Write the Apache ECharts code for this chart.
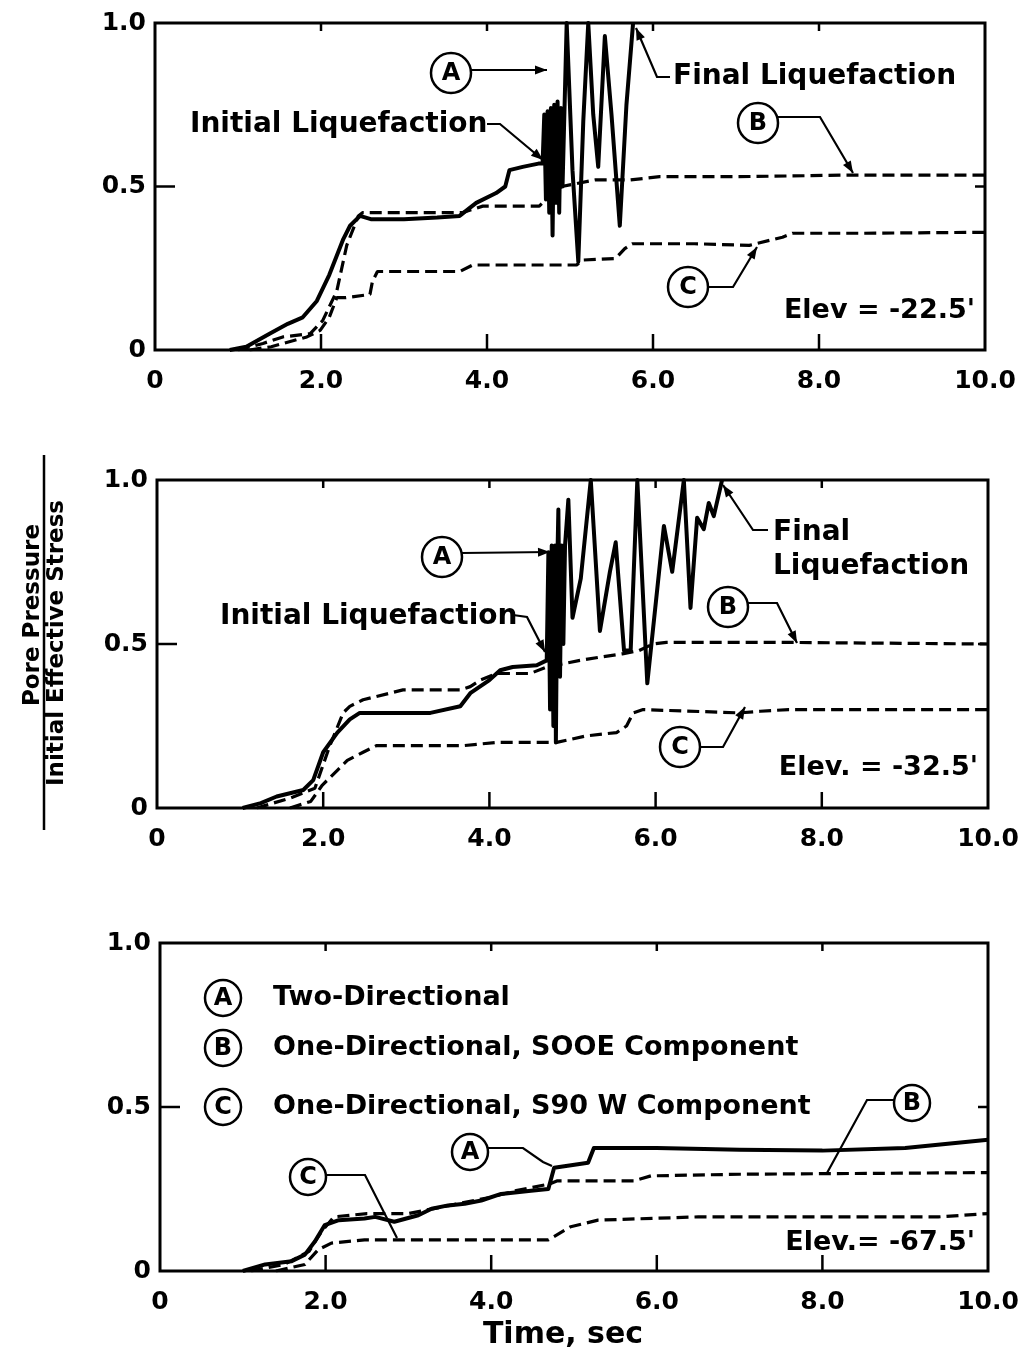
<!DOCTYPE html>
<html>
<head>
<meta charset="utf-8">
<script src="https://cdn.jsdelivr.net/npm/echarts@6/dist/echarts.min.js"></script>
<style>
  html, body { margin: 0; background: #fff; }
  #chart { width: 1026px; height: 1365px; }
</style>
</head>
<body>
<div id="chart"></div>
<script>
// tick labels
const xTickLabels = ['0', '2.0', '4.0', '6.0', '8.0', '10.0'];
const yTickLabels = ['0', '0.5', '1.0'];
const xTicks = [2, 4, 6, 8];
const yTicks = [0.5];

// Elev = -22.5'  : [time (sec), pore pressure ratio]
const top_A = [[0.9,0],[1.1,0.01],[1.38,0.05],[1.6,0.08],[1.78,0.1],[1.95,0.15],[2.1,0.23],[2.27,0.34],[2.35,0.38],[2.47,0.41],[2.6,0.4],[3.0,0.4],[3.4,0.405],[3.67,0.41],[3.87,0.45],[4.11,0.48],[4.22,0.5],[4.27,0.55],[4.43,0.56],[4.62,0.57],[4.67,0.57],[4.69,0.72],[4.71,0.46],[4.73,0.73],[4.75,0.42],[4.77,0.74],[4.79,0.35],[4.81,0.75],[4.83,0.45],[4.85,0.76],[4.87,0.42],[4.89,0.74],[4.91,0.5],[4.96,1.0],[5.03,0.55],[5.1,0.27],[5.16,0.7],[5.22,1.0],[5.28,0.72],[5.34,0.56],[5.42,0.96],[5.5,0.72],[5.6,0.38],[5.68,0.75],[5.76,1.0]];
const top_B = [[1.0,0],[1.3,0.02],[1.54,0.04],[1.87,0.05],[2.02,0.09],[2.19,0.18],[2.31,0.32],[2.45,0.41],[2.5,0.42],[3.0,0.42],[3.7,0.42],[3.95,0.44],[4.3,0.44],[4.63,0.44],[4.75,0.47],[4.9,0.5],[5.3,0.52],[5.72,0.52],[6.08,0.53],[7.0,0.53],[8.4,0.535],[10,0.535]];
const top_C = [[1.14,0],[1.4,0.01],[1.83,0.04],[1.99,0.06],[2.1,0.1],[2.19,0.16],[2.3,0.16],[2.59,0.17],[2.62,0.21],[2.68,0.24],[3.2,0.24],[3.67,0.24],[3.83,0.26],[4.5,0.26],[5.08,0.26],[5.15,0.275],[5.55,0.28],[5.66,0.31],[5.75,0.325],[6.5,0.325],[7.16,0.32],[7.56,0.345],[7.68,0.357],[8.5,0.357],[10,0.36]];

// Elev = -32.5'
const mid_A = [[1.03,0],[1.25,0.015],[1.44,0.035],[1.76,0.055],[1.88,0.085],[2.0,0.17],[2.17,0.23],[2.32,0.27],[2.44,0.29],[2.88,0.29],[3.29,0.29],[3.65,0.31],[3.77,0.35],[4.0,0.39],[4.13,0.42],[4.28,0.43],[4.57,0.435],[4.69,0.45],[4.71,0.78],[4.73,0.3],[4.75,0.8],[4.77,0.25],[4.79,0.8],[4.8,0.2],[4.82,0.78],[4.83,0.91],[4.85,0.4],[4.87,0.8],[4.89,0.5],[4.91,0.8],[4.95,0.94],[5.0,0.58],[5.1,0.7],[5.22,1.0],[5.33,0.54],[5.45,0.72],[5.52,0.81],[5.62,0.48],[5.7,0.48],[5.78,1.0],[5.9,0.38],[6.1,0.86],[6.2,0.72],[6.34,1.0],[6.42,0.61],[6.5,0.885],[6.58,0.85],[6.64,0.93],[6.7,0.89],[6.8,1.0]];
const mid_B = [[1.2,0],[1.6,0.03],[1.9,0.06],[2.08,0.19],[2.24,0.29],[2.32,0.31],[2.48,0.33],[2.8,0.35],[2.96,0.36],[3.65,0.36],[3.77,0.37],[3.89,0.39],[4.09,0.41],[4.49,0.41],[4.69,0.43],[5.09,0.45],[5.33,0.46],[5.6,0.47],[5.8,0.48],[5.97,0.5],[6.13,0.505],[7.5,0.505],[10,0.5]];
const mid_C = [[1.6,0],[1.85,0.02],[1.92,0.045],[1.99,0.07],[2.17,0.115],[2.29,0.145],[2.48,0.17],[2.64,0.19],[3.2,0.19],[3.68,0.19],[4.09,0.2],[4.81,0.2],[5.17,0.22],[5.53,0.23],[5.65,0.25],[5.73,0.29],[5.85,0.3],[7.01,0.29],[7.26,0.295],[7.6,0.3],[10,0.3]];

// Elev = -67.5'
const low_A = [[1.0,0],[1.27,0.02],[1.59,0.03],[1.75,0.05],[1.87,0.09],[1.99,0.14],[2.16,0.155],[2.47,0.16],[2.6,0.165],[2.83,0.15],[3.12,0.17],[3.28,0.19],[3.48,0.2],[3.68,0.205],[3.88,0.215],[4.12,0.235],[4.48,0.245],[4.69,0.25],[4.76,0.315],[5.17,0.33],[5.24,0.375],[6.0,0.375],[7.0,0.37],[8.0,0.367],[9.0,0.375],[10,0.4]];
const low_B = [[1.1,0],[1.5,0.02],[1.8,0.06],[1.95,0.12],[2.1,0.165],[2.5,0.175],[3.0,0.175],[3.3,0.19],[3.6,0.205],[4.0,0.225],[4.3,0.245],[4.7,0.265],[4.8,0.275],[5.72,0.275],[5.93,0.29],[7.0,0.295],[10,0.3]];
const low_C = [[1.4,0],[1.75,0.02],[1.91,0.065],[2.07,0.085],[2.47,0.095],[2.9,0.095],[4.69,0.095],[4.96,0.135],[5.29,0.155],[6.5,0.165],[9.4,0.165],[10,0.175]];

const panels = [
  {left: 155, top: 23, width: 830, height: 327, A: top_A, B: top_B, C: top_C},
  {left: 157, top: 480, width: 831, height: 328, A: mid_A, B: mid_B, C: mid_C},
  {left: 160, top: 943, width: 828, height: 328, A: low_A, B: low_B, C: low_C}
];

const FONT = 'DejaVu Sans';
const labelStyle = {color: '#000', fontFamily: FONT, fontWeight: 'bold', fontSize: 25};

const grids = [], xAxes = [], yAxes = [], series = [];
panels.forEach((p, i) => {
  grids.push({
    left: p.left, top: p.top, width: p.width, height: p.height,
    show: true, borderColor: '#000', borderWidth: 3, outerBoundsMode: 'none'
  });
  xAxes.push({
    gridIndex: i, type: 'value', min: 0, max: 10, interval: 2,
    axisLine: {show: false}, splitLine: {show: false}, axisTick: {show: false},
    axisLabel: {...labelStyle, margin: 19, showMinLabel: true, showMaxLabel: true,
      formatter: v => xTickLabels[Math.round(v / 2)]}
  });
  yAxes.push({
    gridIndex: i, type: 'value', min: 0, max: 1, interval: 0.5,
    axisLine: {show: false}, splitLine: {show: false}, axisTick: {show: false},
    axisLabel: {...labelStyle, margin: 9, formatter: v => yTickLabels[Math.round(v * 2)]}
  });

  const common = {type: 'line', xAxisIndex: i, yAxisIndex: i, showSymbol: false, symbol: 'none', animation: false};
  series.push({...common, name: 'B' + i, data: p.B, z: 2, lineStyle: {color: '#000', width: 3.2, type: [12, 6]}});
  series.push({...common, name: 'C' + i, data: p.C, z: 2, lineStyle: {color: '#000', width: 3.2, type: [12, 6]}});
  series.push({...common, name: 'A' + i, data: p.A, z: 3, lineStyle: {color: '#000', width: 4, join: 'round'}});
});

// annotation helpers
function txt(x, y, s, size, align) {
  return {type: 'text', x: x, y: y, z: 20, style: {
    text: s, fill: '#000', fontFamily: FONT, fontWeight: 'bold', fontSize: size,
    textAlign: align || 'left', textVerticalAlign: 'middle'}};
}
function badge(cx, cy, letter, r) {
  return [
    {type: 'circle', z: 20, shape: {cx: cx, cy: cy, r: r || 20}, style: {fill: '#fff', stroke: '#000', lineWidth: 2.5}},
    txt(cx, cy + 1, letter, 24, 'center')
  ];
}
function leader(points, head) {
  const els = [{type: 'polyline', z: 20, shape: {points: points}, style: {stroke: '#000', lineWidth: 2.2, fill: null}}];
  if (head) {
    const [x1, y1] = points[points.length - 2], [x2, y2] = points[points.length - 1];
    const a = Math.atan2(y2 - y1, x2 - x1), L = 12, W = 4.5;
    const bx = x2 - L * Math.cos(a), by = y2 - L * Math.sin(a);
    els.push({type: 'polygon', z: 20, shape: {points: [[x2, y2],
      [bx - W * Math.sin(a), by + W * Math.cos(a)], [bx + W * Math.sin(a), by - W * Math.cos(a)]]},
      style: {fill: '#000'}});
  }
  return els;
}
function seg(x1, y1, x2, y2) {
  return {type: 'line', z: 15, shape: {x1, y1, x2, y2}, style: {stroke: '#000', lineWidth: 2.5}};
}

const graphic = [].concat(
  // panel 1
  badge(451, 73, 'A'), leader([[471, 70], [547, 70]], true),
  [txt(190, 125, 'Initial Liquefaction', 28)], leader([[487, 124], [500, 124], [543, 160]], true),
  [txt(673, 77, 'Final Liquefaction', 28)], leader([[670, 77], [657, 77], [636, 28]], true),
  badge(758, 123, 'B'), leader([[778, 117], [820, 117], [853, 173]], true),
  badge(688, 287, 'C'), leader([[708, 287], [733, 287], [757, 247]], true),
  [txt(975, 311, "Elev = -22.5'", 27, 'right')],
  // panel 2
  badge(442, 557, 'A'), leader([[462, 553], [550, 552]], true),
  [txt(220, 617, 'Initial Liquefaction', 28)], leader([[513, 615], [527, 617], [545, 652]], true),
  [txt(773, 533, 'Final', 28), txt(773, 567, 'Liquefaction', 28)], leader([[768, 530], [753, 530], [723, 485]], true),
  badge(728, 607, 'B'), leader([[748, 603], [777, 603], [797, 643]], true),
  badge(680, 747, 'C'), leader([[700, 747], [723, 747], [745, 707]], true),
  [txt(978, 768, "Elev. = -32.5'", 27, 'right')],
  // panel 3 legend
  badge(223, 998, 'A', 18), [txt(273, 998, 'Two-Directional', 27)],
  badge(223, 1048, 'B', 18), [txt(273, 1048, 'One-Directional, SOOE Component', 27)],
  badge(223, 1107, 'C', 18), [txt(273, 1107, 'One-Directional, S90 W Component', 27)],
  badge(470, 1152, 'A', 18), leader([[488, 1148], [523, 1148], [543, 1162], [552, 1166]], false),
  badge(308, 1177, 'C', 18), leader([[326, 1175], [365, 1175], [397, 1238]], false),
  badge(912, 1103, 'B', 18), leader([[894, 1100], [867, 1100], [827, 1173]], false),
  [txt(975, 1243, "Elev.= -67.5'", 27, 'right')],
  // axis titles
  [
    {type: 'text', x: 33, y: 615, rotation: Math.PI / 2, z: 20, style: {text: 'Pore Pressure', fill: '#000',
      fontFamily: FONT, fontWeight: 'bold', fontSize: 23, textAlign: 'center', textVerticalAlign: 'middle'}},
    {type: 'line', z: 20, shape: {x1: 44, y1: 455, x2: 44, y2: 830}, style: {stroke: '#000', lineWidth: 2.5}},
    {type: 'text', x: 57, y: 643, rotation: Math.PI / 2, z: 20, style: {text: 'Initial Effective Stress', fill: '#000',
      fontFamily: FONT, fontWeight: 'bold', fontSize: 23, textAlign: 'center', textVerticalAlign: 'middle'}},
    txt(563, 1335, 'Time, sec', 30, 'center')
  ]
);

const chart = echarts.init(document.getElementById('chart'));
chart.setOption({
  backgroundColor: '#fff',
  animation: false,
  grid: grids,
  xAxis: xAxes,
  yAxis: yAxes,
  series: series
});

// inward tick marks on all four sides, placed through the axis scales
panels.forEach((p, i) => {
  const yBottom = chart.convertToPixel({yAxisIndex: i}, 0);
  const yTop = chart.convertToPixel({yAxisIndex: i}, 1);
  const xLeft = chart.convertToPixel({xAxisIndex: i}, 0);
  const xRight = chart.convertToPixel({xAxisIndex: i}, 10);
  xTicks.forEach(v => {
    const x = chart.convertToPixel({xAxisIndex: i}, v);
    graphic.push(seg(x, yBottom, x, yBottom - 16), seg(x, yTop, x, yTop + 8));
  });
  yTicks.forEach(v => {
    const y = chart.convertToPixel({yAxisIndex: i}, v);
    graphic.push(seg(xLeft, y, xLeft + 20, y), seg(xRight, y, xRight - 10, y));
  });
});

chart.setOption({graphic: graphic});
</script>
</body>
</html>
